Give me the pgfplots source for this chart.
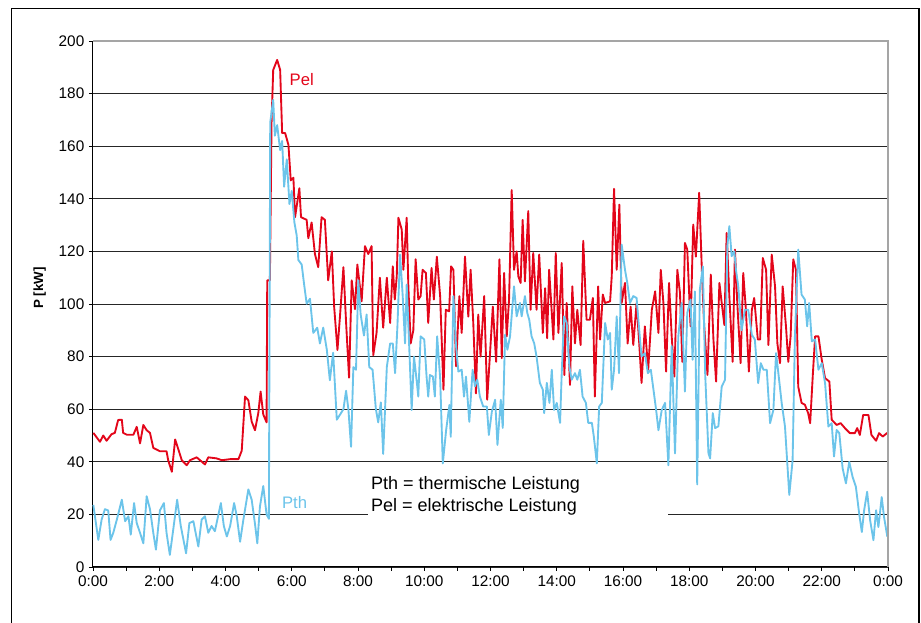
\documentclass[border=0pt]{standalone}
\usepackage{pgfplots}
\usepackage{pgfplotstable}
\usepackage{fontspec}
\setmainfont{Liberation Sans}
\pgfplotsset{compat=1.18}

\definecolor{pelred}{RGB}{227,6,26}
\definecolor{pthblue}{RGB}{108,196,234}
\definecolor{framegray}{RGB}{165,165,165}

% Pel, electrical power [kW], time in hours
\pgfplotstableread{
t P
0.01 51
0.21 47.6
0.31 50
0.41 48
0.56 50.5
0.66 51
0.76 55.9
0.87 56
0.91 51
1.02 50.3
1.22 50.3
1.32 53.3
1.42 47
1.52 54
1.62 52
1.72 51
1.82 45.3
2.02 44
2.22 44
2.27 40.6
2.38 36.2
2.48 48.5
2.58 44.6
2.68 40.6
2.83 38.7
2.93 40.6
3.13 41.7
3.38 39
3.48 41.7
3.73 41.3
3.89 40.6
4.14 41
4.39 41
4.49 44.2
4.59 64.8
4.69 63.4
4.79 55.3
4.89 52
4.99 58.5
5.06 66.7
5.14 58
5.24 55
5.26 109
5.34 109
5.39 169
5.44 189
5.56 192.8
5.65 189
5.71 165
5.80 165
5.90 160.5
5.97 147
6.05 148
6.10 133
6.23 144
6.28 133
6.45 132
6.50 125
6.60 131
6.70 119
6.80 114
6.90 133
7.00 132
7.10 109
7.21 120
7.28 99
7.38 82.5
7.46 96
7.56 114
7.64 93
7.73 72
7.81 109
7.91 98
7.98 115
8.11 101
8.21 122
8.31 119
8.41 122
8.46 80.5
8.56 89
8.66 110
8.76 91
8.87 110
8.97 92.8
9.05 114.3
9.11 101.7
9.17 110.5
9.22 132.8
9.32 128.3
9.37 113
9.47 132.8
9.52 106.7
9.59 85
9.67 90
9.74 117
9.82 101.7
9.89 103
9.95 113
10.05 111.8
10.12 92.8
10.22 113.7
10.29 101.7
10.38 118
10.48 103
10.58 67.4
10.65 97.8
10.75 97.2
10.81 114.3
10.88 113
10.96 76.3
11.06 103
11.13 89
11.23 118
11.33 95.2
11.40 113
11.48 92.8
11.56 66
11.63 96
11.70 80
11.81 103
11.90 63.6
11.98 80
12.07 99
12.17 78
12.27 117
12.34 79.4
12.41 111.8
12.49 87.7
12.56 101.7
12.64 143.3
12.71 113
12.79 120
12.84 110.5
12.91 108
12.97 132
13.04 108.6
13.14 135.3
13.21 97.8
13.29 119.4
13.39 97.8
13.47 118.8
13.58 89
13.65 106
13.71 87
13.77 113
13.90 86.5
13.97 119.4
14.05 89
14.15 115.6
14.23 73
14.30 100.4
14.40 69.2
14.47 106.7
14.55 85
14.62 97.8
14.72 84.4
14.80 124
14.90 94
15.00 94
15.09 102.3
15.15 64.8
15.25 106.7
15.31 86.5
15.39 103.6
15.46 100.4
15.61 101
15.66 110.5
15.73 143.8
15.81 113
15.89 137.8
15.96 100.4
16.06 108
16.14 85
16.23 99
16.31 84.4
16.41 100.4
16.49 85
16.56 70
16.66 91.5
16.76 75
16.87 97.8
16.97 104.8
17.07 89
17.14 113
17.22 100.4
17.30 74.3
17.39 108
17.47 87.7
17.55 72.4
17.64 113
17.72 104.2
17.79 78
17.87 123.2
17.94 120.7
18.04 91.5
18.12 130.2
18.20 118
18.30 142.3
18.38 113
18.45 92
18.55 73
18.65 111.2
18.73 86.5
18.81 70.5
18.91 108
18.98 100.4
19.06 92
19.13 127
19.21 103
19.31 78
19.38 120.7
19.45 100.4
19.55 77.5
19.63 111.8
19.71 97.8
19.80 74.3
19.89 97.8
19.96 102.3
20.07 86.5
20.14 86.5
20.22 117.5
20.32 113
20.39 84.4
20.49 118.8
20.59 106.7
20.66 85
20.74 77.5
20.82 106.7
20.92 91.5
20.99 78
21.06 87.7
21.14 117
21.22 113
21.29 68.6
21.39 62.4
21.49 61.7
21.59 58.5
21.65 54.7
21.73 73
21.80 87.7
21.90 87.7
22.00 78.8
22.10 71.8
22.23 70.5
22.30 56
22.45 54
22.57 54.7
22.70 52.8
22.85 50.9
23.00 50.9
23.07 52.8
23.15 50.2
23.25 57.8
23.41 57.8
23.50 50.2
23.64 48
23.73 50.9
23.84 49.6
23.98 51
}\pel

% Pth, thermal power [kW]
\pgfplotstableread{
t P
0.01 23.6
0.16 10.3
0.26 18
0.36 22
0.46 21.5
0.53 10.3
0.61 12.9
0.72 18
0.87 25.6
0.97 17.4
1.07 19.3
1.14 12.3
1.24 24.3
1.32 16.7
1.42 13
1.52 9
1.62 26.9
1.72 22
1.82 13
1.90 6.6
2.02 21.5
2.14 24.3
2.22 13
2.32 4.6
2.42 14
2.54 25.6
2.65 15.6
2.81 5.2
2.91 16.7
3.03 17.4
3.18 7.8
3.28 18
3.38 19.3
3.48 13
3.58 15.6
3.68 13.6
3.86 24.3
3.95 15.6
4.04 11.6
4.14 15.6
4.26 24.3
4.34 19.3
4.44 9.6
4.54 18
4.69 29.5
4.79 25.6
4.89 16.4
4.96 9
5.04 23
5.14 30.8
5.24 20
5.31 18.3
5.35 169
5.44 177.6
5.49 164
5.56 168
5.65 158.5
5.71 162
5.77 144.6
5.85 155
5.93 138
6.00 143
6.08 131
6.15 126
6.20 116.7
6.30 115
6.37 107.8
6.45 100.1
6.55 102
6.65 89
6.77 91
6.85 85
6.95 91
7.06 82.5
7.15 71
7.25 81.5
7.36 56
7.46 58
7.56 60
7.64 67
7.71 60
7.79 45.7
7.86 76
7.94 75
8.01 109
8.08 96
8.18 88
8.26 96
8.34 76
8.44 75
8.54 60
8.61 55
8.69 62.6
8.76 43
8.87 76
8.97 85
9.05 85
9.12 73.7
9.19 91.5
9.27 118.8
9.35 103
9.42 85
9.47 107.4
9.55 82.6
9.62 59.7
9.69 80
9.77 71
9.82 64.8
9.89 87.7
10.00 86.5
10.07 72.4
10.12 64.8
10.17 73
10.26 72.4
10.32 64.8
10.39 87.7
10.48 71.8
10.56 39.4
10.66 52
10.76 61.6
10.80 49.5
10.88 103
10.96 84
11.03 74.3
11.13 75
11.20 64.8
11.26 72.4
11.36 55.2
11.46 75
11.53 68.7
11.60 71.2
11.68 64.8
11.78 61
11.89 61
11.95 50.2
12.04 59
12.14 63.6
12.21 46.4
12.31 63.6
12.37 52.9
12.44 88.3
12.51 82.6
12.59 87.7
12.71 106.7
12.79 95.3
12.89 100.4
12.94 95.3
13.04 103
13.11 96.6
13.17 94
13.24 87.7
13.32 85
13.39 80
13.49 70
13.58 67.4
13.62 58.5
13.70 70
13.78 62.4
13.85 75
13.92 59.7
14.00 62.4
14.10 54.8
14.15 73.7
14.22 95.3
14.30 92.8
14.38 76.3
14.45 71.2
14.55 73.7
14.62 71.2
14.70 75
14.78 64.8
14.88 62.4
14.95 54.8
15.06 54.8
15.12 49.5
15.21 39.4
15.28 61
15.36 62.4
15.46 92.8
15.54 86.5
15.61 89
15.66 67.4
15.73 75
15.81 95.3
15.88 73.7
15.96 122.6
16.06 113
16.13 108
16.21 100.4
16.31 103
16.41 102.3
16.49 90
16.56 80
16.66 81.3
16.75 73.7
16.84 75
16.92 67.4
17.00 59.7
17.07 52
17.17 59.7
17.27 62.4
17.37 38.7
17.47 84
17.57 43.2
17.67 87.7
17.77 100.4
17.87 66.7
17.94 96.6
18.04 101.7
18.10 78.8
18.17 104.8
18.24 31.4
18.32 105.5
18.41 114.3
18.48 73.7
18.58 43.2
18.63 41.3
18.71 58.5
18.78 52.8
18.88 53.5
18.98 68.6
19.08 71.2
19.15 122
19.21 129.6
19.28 118.2
19.36 120
19.41 113
19.48 106.7
19.58 90
19.68 97.8
19.78 97.8
19.89 88.3
19.98 86.5
20.08 69.9
20.16 77.5
20.24 75
20.34 75
20.44 54.7
20.54 59.7
20.62 81.3
20.69 73.7
20.79 62.4
20.89 53.4
21.02 27.4
21.12 40.6
21.19 87.7
21.29 120.7
21.39 103.6
21.49 101.7
21.56 91.5
21.62 100.4
21.70 85.8
21.80 86.5
21.90 75
22.00 77.5
22.10 69.9
22.20 53.4
22.30 54.7
22.37 42
22.45 52.1
22.53 50.9
22.63 37.5
22.73 31.8
22.83 40
22.93 34.3
23.03 30.5
23.13 20.3
23.21 13.3
23.28 21.6
23.37 28.6
23.46 17.8
23.56 10.2
23.64 21.6
23.71 15.2
23.81 26.6
23.88 19
23.98 11.5
}\pth

\begin{document}
\begin{tikzpicture}
  % page = 921 x 623 px at 0.75pt per px, origin at the axis corner
  \useasboundingbox (-69.75pt,-42pt) rectangle (621pt,425.25pt);
  \draw[black, line width=1.1pt] (-61pt,-60pt) rectangle (619.5pt,418.7pt);
  \begin{axis}[
      at={(0,0)}, anchor=south west,
      scale only axis,
      width=596.25pt, height=394.5pt,
      xmin=0, xmax=24, ymin=0, ymax=200,
      axis lines*=left,
      axis line style={black, line width=0.75pt},
      xtick={0,2,...,24},
      xticklabels={0:00,2:00,4:00,6:00,8:00,10:00,12:00,14:00,16:00,18:00,20:00,22:00,0:00},
      minor xtick={1,3,...,23},
      ytick={0,20,...,200},
      tick align=outside,
      major tick length=3pt, minor tick length=3pt,
      tick style={black, line width=0.6pt},
      ymajorgrids=true,
      major grid style={black!85, line width=0.6pt},
      ticklabel style={font=\fontsize{11.5}{13}\selectfont},
      /pgf/number format/assume math mode=true,
      ylabel={\textbf{P [kW]}},
      ylabel style={font=\fontsize{10.5}{12}\selectfont},
      every axis y label/.style={at={(axis description cs:-0.067,0.53)}, rotate=90, anchor=center},
      clip=false
    ]
    \addplot[pelred, line width=1.4pt, line join=round] table[x=t, y=P] {\pel};
    \addplot[pthblue, line width=1.4pt, line join=round] table[x=t, y=P] {\pth};

    \draw[framegray, line width=1.4pt] (axis cs:0,200) -- (axis cs:24,200) -- (axis cs:24,0);

    \fill[white] (axis cs:8.30,16) rectangle (axis cs:17.36,37.5);
    \node[anchor=base west, font=\fontsize{13.5}{16}\selectfont, inner sep=0pt]
      at (axis cs:8.39,29.5) {Pth = thermische Leistung};
    \node[anchor=base west, font=\fontsize{13.5}{16}\selectfont, inner sep=0pt]
      at (axis cs:8.39,21.0) {Pel = elektrische Leistung};

    \node[anchor=base west, pelred, font=\fontsize{12.5}{14}\selectfont, inner sep=0pt]
      at (axis cs:5.93,183) {Pel};
    \node[anchor=base west, pthblue, font=\fontsize{12.5}{14}\selectfont, inner sep=0pt]
      at (axis cs:5.70,22.3) {Pth};
  \end{axis}
\end{tikzpicture}
\end{document}
